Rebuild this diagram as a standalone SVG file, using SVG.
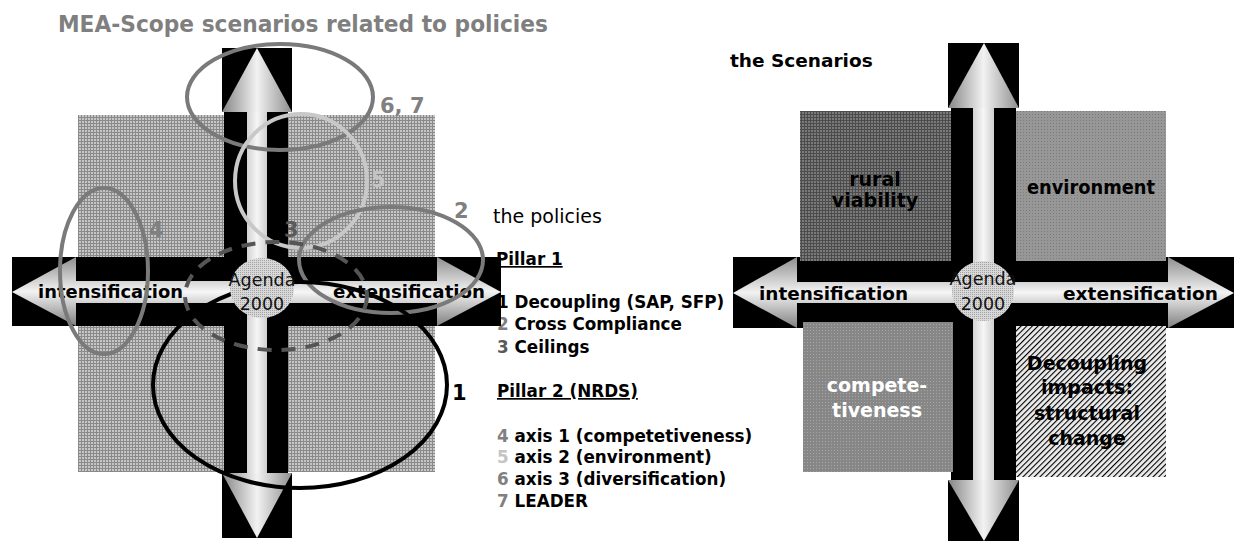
<svg xmlns="http://www.w3.org/2000/svg" width="1236" height="541" viewBox="0 0 1236 541">
<defs>
<style>
text{font-family:"DejaVu Sans",Verdana,sans-serif}
.ax{font-weight:bold;font-size:18.5px;fill:#000}
.ag{font-size:17.5px;fill:#111;text-anchor:middle}
.num{font-weight:bold;font-size:21px}
.pol{font-weight:bold;font-size:16.8px;fill:#000}
.q{font-weight:bold;font-size:19px;text-anchor:middle;fill:#000}
.ell{fill:none;stroke-width:4}
.bk{fill:#000}
.g2{fill:#808080}
.g3{fill:#5a5a5a}
.g5{fill:#c4c4c4}
</style>
<pattern id="pL" width="3" height="3" patternUnits="userSpaceOnUse"><rect width="3" height="3" fill="#c6c6c6"/><rect width="3" height="1" fill="#8a8a8a"/><rect width="1" height="3" fill="#8a8a8a"/></pattern>
<pattern id="pRural" width="3" height="3" patternUnits="userSpaceOnUse"><rect width="3" height="3" fill="#7a7a7a"/><rect width="3" height="1" fill="#4c4c4c"/><rect width="1" height="3" fill="#4c4c4c"/></pattern>
<pattern id="pEnv" width="3" height="3" patternUnits="userSpaceOnUse"><rect width="3" height="3" fill="#979797"/><rect width="1" height="1" fill="#7a7a7a"/></pattern>
<pattern id="pComp" width="3" height="3" patternUnits="userSpaceOnUse"><rect width="3" height="3" fill="#878787"/><rect width="1" height="1" fill="#a6a6a6"/></pattern>
<pattern id="pHatch" width="4" height="4" patternUnits="userSpaceOnUse" patternTransform="rotate(45)"><rect width="4" height="4" fill="#ececec"/><rect width="1.1" height="4" fill="#000"/></pattern>
<pattern id="pAg" width="2" height="2" patternUnits="userSpaceOnUse"><rect width="2" height="2" fill="#d8d8d8"/><rect width="1" height="1" fill="#a4a4a4"/></pattern>
<linearGradient id="gv" x1="0" y1="0" x2="1" y2="0"><stop offset="0" stop-color="#858585"/><stop offset="0.5" stop-color="#f2f2f2"/><stop offset="1" stop-color="#8e8e8e"/></linearGradient>
<linearGradient id="gvs" x1="0" y1="0" x2="1" y2="0"><stop offset="0" stop-color="#d2d2d2"/><stop offset="0.5" stop-color="#f6f6f6"/><stop offset="1" stop-color="#cfcfcf"/></linearGradient>
<linearGradient id="gh" x1="0" y1="0" x2="0" y2="1"><stop offset="0" stop-color="#8e8e8e"/><stop offset="0.5" stop-color="#f2f2f2"/><stop offset="1" stop-color="#808080"/></linearGradient>
<linearGradient id="ghs" x1="0" y1="0" x2="0" y2="1"><stop offset="0" stop-color="#d4d4d4"/><stop offset="0.5" stop-color="#f6f6f6"/><stop offset="1" stop-color="#d0d0d0"/></linearGradient>
</defs>
<rect width="1236" height="541" fill="#fff"/>

<text id="title" x="58" y="32" font-size="22.5" font-weight="bold" fill="#7f7f7f" textLength="490" lengthAdjust="spacingAndGlyphs">MEA-Scope scenarios related to policies</text>

<g id="policies">
<text x="493" y="223" font-size="19" fill="#000">the policies</text>
<text class="pol" x="496" y="265" text-decoration="underline">Pillar 1</text>
<text class="pol" x="497" y="308"><tspan fill="#000">1</tspan> Decoupling (SAP, SFP)</text>
<text class="pol" x="497" y="330"><tspan class="g2">2</tspan> Cross Compliance</text>
<text class="pol" x="497" y="353"><tspan class="g3">3</tspan> Ceilings</text>
<text class="pol" x="497" y="397" text-decoration="underline">Pillar 2 (NRDS)</text>
<text class="pol" x="497" y="442"><tspan class="g2">4</tspan> axis 1 (competetiveness)</text>
<text class="pol" x="497" y="463"><tspan class="g5">5</tspan> axis 2 (environment)</text>
<text class="pol" x="497" y="485"><tspan class="g2">6</tspan> axis 3 (diversification)</text>
<text class="pol" x="497" y="507"><tspan class="g2">7</tspan> LEADER</text>
</g>

<g id="left-diagram">
<rect x="78" y="115" width="357" height="357" fill="url(#pL)"/>
<g class="bk">
<rect x="224" y="48" width="64" height="490"/>
<rect x="222" y="48" width="70" height="64"/>
<rect x="222" y="473" width="70" height="65"/>
<rect x="12" y="257" width="489" height="69"/>
</g>
<rect x="247" y="112" width="20" height="361" fill="url(#gvs)"/>
<polygon points="222,112 292,112 257,48" fill="url(#gv)"/>
<polygon points="222,473 292,473 257,538" fill="url(#gv)"/>
<rect x="76" y="281" width="361" height="22" fill="url(#ghs)"/>
<polygon points="76,257 76,326 12,292" fill="url(#gh)"/>
<polygon points="437,257 437,326 501,292" fill="url(#gh)"/>
<text class="ax" x="38" y="298" textLength="145" lengthAdjust="spacingAndGlyphs">intensification</text>
<text class="ax" x="333" y="298" textLength="152" lengthAdjust="spacingAndGlyphs">extensification</text>
</g>

<g id="policy-ellipses">
<ellipse id="e67" class="ell" cx="280" cy="97" rx="93" ry="53" stroke="#7a7a7a"/>
<ellipse id="e5" class="ell" cx="301" cy="181" rx="66" ry="67" stroke="#c8c8c8"/>
<ellipse id="e4" class="ell" cx="104" cy="271" rx="44" ry="83" stroke="#7a7a7a"/>
<ellipse id="e2" class="ell" cx="391" cy="260" rx="92" ry="53" stroke="#7a7a7a"/>
<ellipse id="e1" class="ell" cx="300" cy="385" rx="147" ry="103" stroke="#000"/>
<ellipse id="e3" class="ell" cx="276" cy="296" rx="91" ry="54" stroke="#555" stroke-width="4.5" stroke-dasharray="14 10"/>
</g>

<g id="agenda-left">
<ellipse cx="262" cy="288" rx="32" ry="30" fill="url(#pAg)"/>
<text class="ag" x="262" y="286">Agenda</text>
<text class="ag" x="262" y="310">2000</text>
</g>

<g id="ellipse-labels">
<text class="num g2" x="380" y="113" font-size="23">6, 7</text>
<text class="num g5" x="371" y="187">5</text>
<text class="num g2" x="149" y="237">4</text>
<text class="num g3" x="284" y="237">3</text>
<text class="num g2" x="454" y="218">2</text>
<text class="num" x="452" y="400" fill="#000">1</text>
</g>

<g id="right-diagram">
<text x="730" y="67" font-size="18.5" font-weight="bold" fill="#000">the Scenarios</text>
<g class="bk">
<rect x="951" y="43" width="65" height="498"/>
<rect x="948" y="43" width="71" height="65"/>
<rect x="948" y="480" width="71" height="61"/>
<rect x="733" y="257" width="501" height="71"/>
</g>
<g id="q-rural"><rect x="800" y="111" width="151" height="150" fill="url(#pRural)"/>
<text class="q" x="875" y="186">rural</text><text class="q" x="875" y="207">viability</text></g>
<g id="q-env"><rect x="1016" y="111" width="150" height="150" fill="url(#pEnv)"/>
<text class="q" x="1091" y="194" textLength="128" lengthAdjust="spacingAndGlyphs">environment</text></g>
<g id="q-comp"><rect x="803" y="322" width="150" height="150" fill="url(#pComp)"/>
<text class="q" x="877" y="392" style="fill:#fff">compete-</text><text class="q" x="877" y="417" style="fill:#fff">tiveness</text></g>
<g id="q-dec"><rect x="1016" y="326" width="150" height="151" fill="url(#pHatch)"/>
<text class="q" x="1087" y="370">Decoupling</text><text class="q" x="1087" y="394">impacts:</text>
<text class="q" x="1087" y="420">structural</text><text class="q" x="1087" y="445">change</text></g>
<rect x="973" y="108" width="21" height="372" fill="url(#gvs)"/>
<polygon points="948,108 1019,108 984,43" fill="url(#gv)"/>
<polygon points="948,480 1019,480 984,541" fill="url(#gv)"/>
<rect x="797" y="282" width="371" height="21" fill="url(#ghs)"/>
<polygon points="797,257 797,328 733,293" fill="url(#gh)"/>
<polygon points="1168,257 1168,328 1234,293" fill="url(#gh)"/>
<text class="ax" x="759" y="300" textLength="149" lengthAdjust="spacingAndGlyphs">intensification</text>
<text class="ax" x="1063" y="300" textLength="155" lengthAdjust="spacingAndGlyphs">extensification</text>
<ellipse cx="983" cy="291" rx="31" ry="30" fill="url(#pAg)"/>
<text class="ag" x="983" y="285">Agenda</text>
<text class="ag" x="983" y="310">2000</text>
</g>
</svg>
